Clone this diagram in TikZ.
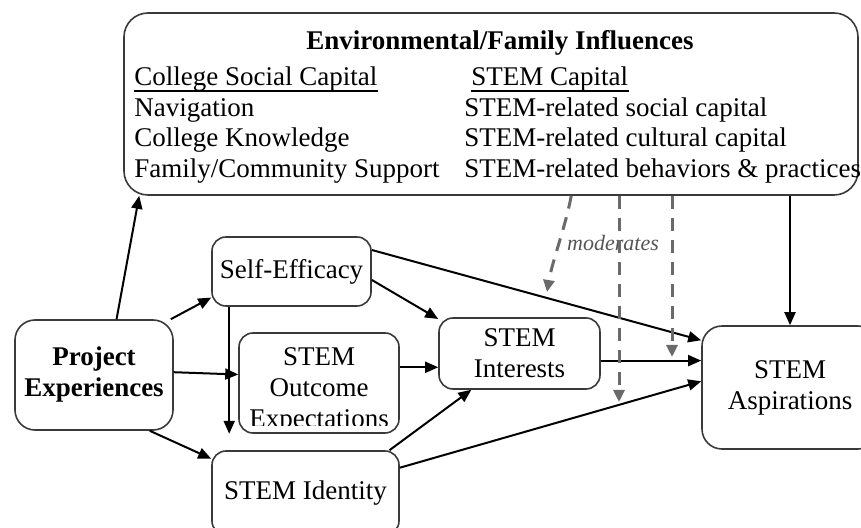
\documentclass[tikz,border=0pt]{standalone}
\usepackage{fontspec}
\setmainfont{Liberation Serif}
\usetikzlibrary{arrows.meta,calc}

\definecolor{boxline}{HTML}{3A3A3A}
\definecolor{modgray}{HTML}{6A6A6A}
\definecolor{modtext}{HTML}{555555}
\newcommand{\figfont}{\fontsize{13.5}{15.5}\selectfont}

\begin{document}
\begin{tikzpicture}[x=0.5pt,y=-0.5pt,font=\figfont,
  box/.style={draw=boxline,line width=0.8pt,rounded corners=7pt,inner sep=0pt,align=center},
  arr/.style={-{Triangle[length=6.5pt,width=5.5pt]},line width=1pt},
  modline/.style={modgray,line width=1.5pt,dash pattern=on 6.5pt off 4.5pt,
    -{Triangle[length=6pt,width=5.5pt]}}]

\useasboundingbox (0,0) rectangle (861,528);

% influences box on top
\node[box,rounded corners=12pt,minimum width=367pt,minimum height=91pt] (env) at (491,104) {};
\node[anchor=base,font=\figfont\bfseries] (envtitle) at (500,50) {Environmental/Family Influences};

\node[anchor=base west,inner sep=0pt] (collhead) at (134,86) {College Social Capital};
\node[anchor=base west,inner sep=0pt] (stemhead) at (471,86) {STEM Capital};
\draw[line width=0.8pt] ([yshift=-2.4pt]collhead.base west) -- ([yshift=-2.4pt]collhead.base east);
\draw[line width=0.8pt] ([yshift=-2.4pt]stemhead.base west) -- ([yshift=-2.4pt]stemhead.base east);

\node[anchor=base west,inner sep=0pt] (nav) at (134,117) {Navigation};
\node[anchor=base west,inner sep=0pt] (know) at (134,147) {College Knowledge};
\node[anchor=base west,inner sep=0pt] (supp) at (134,178) {Family/Community Support};
\node[anchor=base west,inner sep=0pt] (socap) at (464,117) {STEM-related social capital};
\node[anchor=base west,inner sep=0pt] (cultcap) at (464,147) {STEM-related cultural capital};
\node[anchor=base west,inner sep=0pt] (behav) at (464,178) {STEM-related behaviors \& practices};

% the model boxes
\node[box,font=\figfont\bfseries,rounded corners=10pt,minimum width=79pt,minimum height=55pt] (PE) at (94,375) {Project\\Experiences};
\node[box,minimum width=79.5pt,minimum height=34.5pt] (SE) at (291.5,271.5) {Self-Efficacy};
\node[box,minimum width=80pt,minimum height=50pt] (OE) at (319,383) {};
\begin{scope}
\clip ([yshift=4pt]OE.south west) rectangle (OE.north east);
\node[align=center] (OEtext) at ([yshift=-3.5pt]OE.center) {STEM\\Outcome\\Expectations};
\end{scope}
\node[box,minimum width=93.5pt,minimum height=42pt] (SI) at (305.5,493) {STEM Identity};
\node[box,minimum width=80.5pt,minimum height=35.5pt] (Int) at (519.5,353.5) {STEM\\Interests};
\node[box,rounded corners=10pt,minimum width=88pt,minimum height=61.5pt] (Asp) at (790,387.5) {STEM\\Aspirations};

% paths
\draw[arr] (PE.68) -- ([xshift=8pt]env.south west);
\draw[arr] (PE.36) -- (SE.198);
\draw[arr] (PE.2) -- (OE.174);
\draw[arr] (PE.315) -- (SI.160);
\coordinate (sedrop) at ($(SE.south west)+(18,0)$);
\draw[arr] (sedrop) -- (sedrop |- OE.south);
\draw[arr] (SE.15) -- (Asp.152);
\draw[arr] (SE.354) -- (Int.157);
\draw[arr] (OE.11) -- (OE.11 -| Int.west);
\draw[arr] (Int.355) -- (Int.355 -| Asp.west);
\draw[arr] (SI.27) -- (Int.217);
\draw[arr] (SI.15) -- (Asp.176);
\draw[arr] (Asp.north |- env.south) -- (Asp.north);

% moderating effects
\coordinate (modA) at (547,292);
\coordinate (modB) at (619,402);
\coordinate (modC) at (672,357);
\node[font=\fontsize{11}{13}\selectfont\itshape,text=modtext] (modlabel) at (613,243) {moderates};
\draw[modline] ($(env.south west)+(448,0)$) .. controls (566,225) and (552,262) .. (modA);
\draw[modline] (modB |- env.south) -- (modB);
\draw[modline] (modC |- env.south) -- (modC);

\end{tikzpicture}
\end{document}
